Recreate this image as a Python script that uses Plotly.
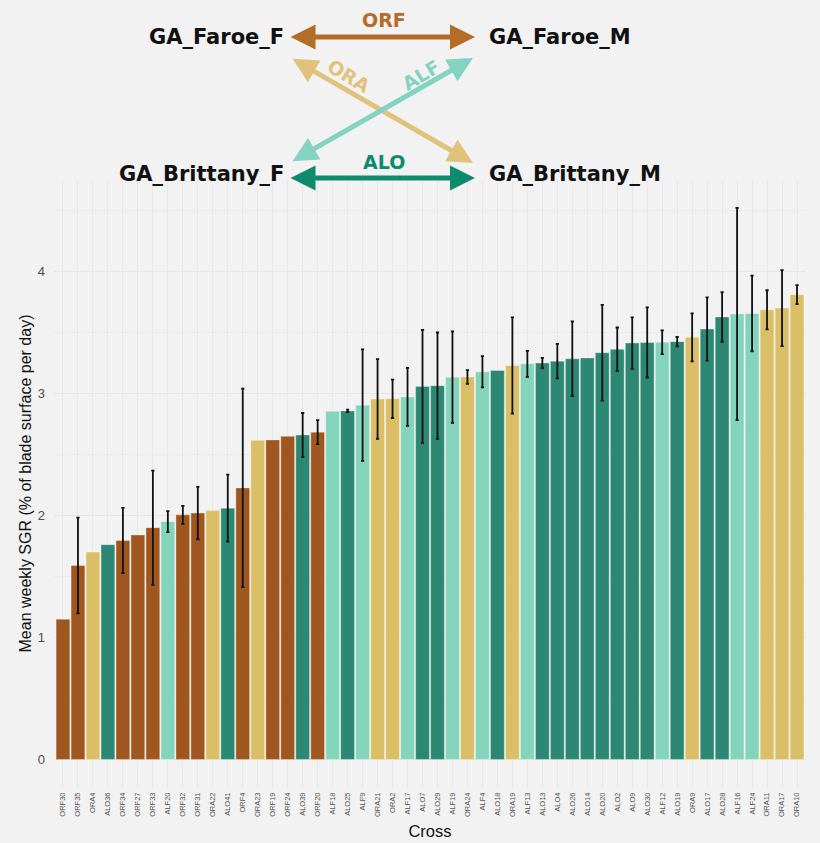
import plotly.graph_objects as go

# Crosses ordered by mean weekly specific growth rate
crosses = [
    "ORF30", "ORF35", "ORA4", "ALO36", "ORF34", "ORF27", "ORF33", "ALF20", "ORF32", "ORF31",
    "ORA22", "ALO41", "ORF4", "ORA23", "ORF19", "ORF24", "ALO39", "ORF20", "ALF18", "ALO25",
    "ALF9", "ORA21", "ORA2", "ALF17", "ALO7", "ALO29", "ALF19", "ORA24", "ALF4", "ALO18",
    "ORA19", "ALF13", "ALO13", "ALO4", "ALO26", "ALO14", "ALO20", "ALO2", "ALO9", "ALO30",
    "ALF12", "ALO19", "ORA9", "ALO17", "ALO28", "ALF16", "ALF24", "ORA11", "ORA17", "ORA10",
]
mean_sgr = [
    1.15, 1.59, 1.70, 1.76, 1.795, 1.84, 1.90, 1.95, 2.005, 2.02,
    2.04, 2.06, 2.226, 2.616, 2.619, 2.649, 2.66, 2.683, 2.855, 2.857,
    2.904, 2.955, 2.956, 2.972, 3.058, 3.064, 3.134, 3.135, 3.178, 3.188,
    3.229, 3.243, 3.25, 3.265, 3.284, 3.291, 3.334, 3.362, 3.413, 3.418,
    3.42, 3.425, 3.46, 3.528, 3.627, 3.652, 3.656, 3.686, 3.70, 3.81,
]
# Standard error; None where a cross has a single replicate
se_sgr = [
    None, 0.393, None, None, 0.268, None, 0.468, 0.086, 0.074, 0.215,
    None, 0.274, 0.814, None, None, None, 0.18, 0.098, None, 0.01,
    0.457, 0.327, 0.157, 0.238, 0.463, 0.436, 0.375, 0.057, 0.128, None,
    0.395, 0.107, 0.042, 0.141, 0.306, None, 0.393, 0.179, 0.211, 0.287,
    0.097, 0.038, 0.197, 0.259, 0.203, 0.87, 0.31, 0.16, 0.312, 0.078,
]

cross_colors = {"ORF": "#A0571F", "ORA": "#DBBF67", "ALF": "#84D4BB", "ALO": "#2C8872"}
arrow_colors = {"ORF": "#B46C29", "ORA": "#E1C27C", "ALF": "#84D2C1", "ALO": "#0E8B6E"}

bar_colors = [cross_colors[c[:3]] for c in crosses]

fig = go.Figure()
fig.add_trace(go.Bar(
    x=crosses, y=mean_sgr, width=0.92,
    marker=dict(color=bar_colors, line=dict(color="rgba(255,255,255,0.55)", width=0.6)),
    showlegend=False,
))
# Error bars only where replicates exist
idx = [i for i, e in enumerate(se_sgr) if e is not None]
fig.add_trace(go.Scatter(
    x=[crosses[i] for i in idx], y=[mean_sgr[i] for i in idx], mode="markers",
    marker=dict(size=0.1, color="rgba(0,0,0,0)"),
    error_y=dict(type="data", array=[se_sgr[i] for i in idx], visible=True,
                 color="#111111", thickness=1.8, width=1.6),
    showlegend=False, hoverinfo="skip",
))

L, R, T, B = 54, 14, 180, 56
W, H = 820, 843
pw, ph = W - L - R, H - T - B


def px(x):
    return (x - L) / pw


def py(y):
    return (H - B - y) / ph


annotations = []
node_font = dict(family="DejaVu Sans", size=21, color="#111111")
for text, x, y, anchor in [
    ("<b>GA_Faroe_F</b>", 286, 37, "right"),
    ("<b>GA_Faroe_M</b>", 487, 37, "left"),
    ("<b>GA_Brittany_F</b>", 286, 174, "right"),
    ("<b>GA_Brittany_M</b>", 487, 174, "left"),
]:
    annotations.append(dict(text=text, x=px(x), y=py(y), xref="paper", yref="paper",
                            xanchor=anchor, yanchor="middle", showarrow=False, font=node_font))

# Double-headed arrows between parental pairs: (tip, tail) in pixels
arrows = [
    ("ORF", (475, 37), (289, 37)),
    ("ALO", (475, 178), (289, 178)),
    ("ORA", (473, 163), (291, 58)),
    ("ALF", (473, 58), (291, 162)),
]
for key, (tx, ty), (sx, sy) in arrows:
    annotations.append(dict(
        x=px(tx), y=py(ty), xref="paper", yref="paper", text="",
        showarrow=True, ax=sx - tx, ay=sy - ty, axref="pixel", ayref="pixel",
        arrowhead=2, startarrowhead=2, arrowside="end+start",
        arrowsize=1.0, startarrowsize=1.0, arrowwidth=5, arrowcolor=arrow_colors[key],
    ))

label_font = dict(family="DejaVu Sans", size=19)
for key, x, y, ang in [("ORF", 384, 20, 0), ("ALO", 384, 162, 0),
                       ("ORA", 349, 76, 31), ("ALF", 421, 75, -31)]:
    annotations.append(dict(text=f"<b>{key}</b>", x=px(x), y=py(y), xref="paper", yref="paper",
                            xanchor="center", yanchor="middle",
                            showarrow=False, textangle=ang,
                            font=dict(label_font, color=arrow_colors[key])))

fig.update_layout(
    width=W, height=H,
    margin=dict(l=L, r=R, t=T, b=B, autoexpand=False),
    paper_bgcolor="#F2F2F2", plot_bgcolor="#F2F2F2",
    font=dict(family="Liberation Sans", color="#4D4D4D"),
    annotations=annotations,
    xaxis=dict(
        type="category", range=[-0.6, len(crosses) - 0.4], automargin=False,
        tickangle=-90, tickfont=dict(size=7.5, color="#555555"),
        showgrid=True, gridcolor="#E8E8E8", gridwidth=1,
        ticks="", showline=False, zeroline=False, ticklabelstandoff=3,
        title=dict(text="Cross", font=dict(size=16.5, color="#111111"), standoff=9),
    ),
    yaxis=dict(
        range=[-0.226, 4.75], tickvals=[0, 1, 2, 3, 4], automargin=False,
        tickfont=dict(size=13, color="#4D4D4D"),
        showgrid=True, gridcolor="#E6E6E6", gridwidth=1,
        minor=dict(tickvals=[0.5, 1.5, 2.5, 3.5, 4.5], showgrid=True,
                   gridcolor="#EBEBEB", gridwidth=1),
        zeroline=False, showline=False, ticks="", ticklabelstandoff=8,
        title=dict(text="Mean weekly SGR (% of blade surface per day)",
                   font=dict(size=16, color="#111111"), standoff=2),
    ),
)

fig.write_html("out.html")
